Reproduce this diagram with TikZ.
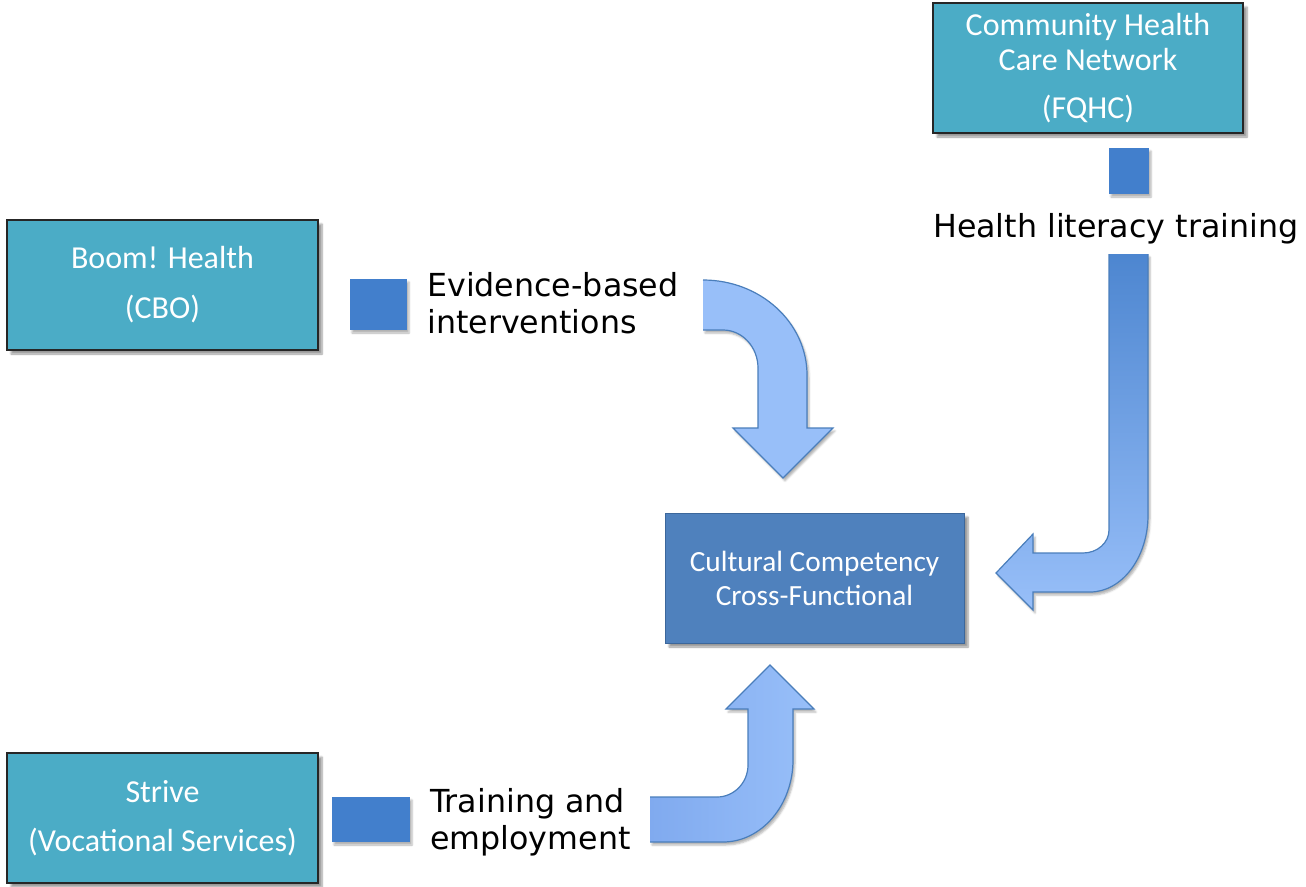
\documentclass[tikz,border=0pt]{standalone}
\usepackage{fontspec}
\setmainfont{Carlito}
\newfontfamily\labelfont{DejaVu Sans}
\usetikzlibrary{shadows.blur}
\definecolor{tealbox}{HTML}{4BACC6}
\definecolor{corebox}{HTML}{4F81BD}
\definecolor{coreline}{HTML}{3C679B}
\definecolor{sqcol}{HTML}{427FCC}
\definecolor{arrowlight}{HTML}{98BFF9}
\definecolor{arrowdark}{HTML}{4D86D0}
\definecolor{arrowmid}{HTML}{80AAEF}
\definecolor{arrowline}{HTML}{4A7EBB}
\tikzset{
  orgbox/.style={draw=black!85, line width=1.2pt, fill=tealbox, text=white,
    minimum width=311pt, minimum height=130pt, align=center, inner sep=0pt,
    font=\fontsize{32}{35}\selectfont,
    blur shadow={shadow xshift=4pt, shadow yshift=-4pt, shadow opacity=40, shadow blur steps=6}},
  corenode/.style={draw=coreline, line width=1pt, fill=corebox, text=white,
    minimum width=299pt, minimum height=130pt, align=center, inner sep=0pt,
    font=\fontsize{29.3}{34}\selectfont,
    blur shadow={shadow xshift=4pt, shadow yshift=-4pt, shadow opacity=40, shadow blur steps=6}},
  lbl/.style={anchor=west, align=left, inner sep=0pt, text=black,
    font=\labelfont\fontsize{31.7}{37.5}\selectfont},
  sq/.style={fill=sqcol, draw=none,
    blur shadow={shadow xshift=2pt, shadow yshift=-3pt, shadow opacity=30, shadow blur steps=4}},
  arrowedge/.style={draw=arrowline, line width=1.2pt, line join=miter},
  arrowshadow/.style={blur shadow={shadow xshift=2pt, shadow yshift=-3pt, shadow opacity=30, shadow blur steps=4}}
}
\begin{document}
\begin{tikzpicture}[x=1pt,y=-1pt]
\useasboundingbox (0,0) rectangle (1306,886);

% boxes
\node[orgbox] (boom) at (162.5,285) {\raisebox{-2pt}{Boom! Health}\\[15pt]\raisebox{-2pt}{(CBO)}};
\node[orgbox, minimum width=310pt] (chcn) at (1088,68) {Community Health\\Care Network\\[13pt](FQHC)};
\node[orgbox] (strive) at (162.5,818) {\raisebox{-2pt}{Strive}\\[14pt]\raisebox{-2pt}{(Vocational Services)}};
\node[corenode] (core) at (814.5,578) {Cultural Competency\\Cross-Functional};

% small squares (start of the arrows)
\fill[sq] (350,279) rectangle (407,330);
\fill[sq] (1109,148) rectangle (1149,194);
\fill[sq] (332,797) rectangle (410,842);

% arrow 1: Evidence-based interventions
\fill[arrowlight, arrowshadow] (703,280) .. controls (760.4,280) and (807,322.6) .. (807,375)
  -- (807,428) -- (833,428) -- (783,478) -- (733,428) -- (758,428) -- (758,368)
  .. controls (758,347) and (742.3,330) .. (723,330) -- (703,330) -- cycle;
\draw[arrowedge] (703,280) .. controls (760.4,280) and (807,322.6) .. (807,375)
  -- (807,428) -- (833,428) -- (783,478) -- (733,428) -- (758,428) -- (758,368)
  .. controls (758,347) and (742.3,330) .. (723,330) -- (703,330);

% arrow 2: Health literacy training
\shade[top color=arrowdark, bottom color=arrowlight, arrowshadow] (1109,254) -- (1109,530)
  .. controls (1109,542.7) and (1097.4,553) .. (1083,553)
  -- (1033,553) -- (1033,534) -- (996,573) -- (1033,610) -- (1033,592) -- (1090,592)
  .. controls (1122,592) and (1148,557.5) .. (1148,515) -- (1148,254) -- cycle;
\draw[arrowedge] (1109,254) -- (1109,530)
  .. controls (1109,542.7) and (1097.4,553) .. (1083,553)
  -- (1033,553) -- (1033,534) -- (996,573) -- (1033,610) -- (1033,592) -- (1090,592)
  .. controls (1122,592) and (1148,557.5) .. (1148,515) -- (1148,254);

% arrow 3: Training and employment
\shade[left color=arrowmid, middle color=arrowlight, right color=arrowlight, arrowshadow] (650,797) -- (717,797)
  .. controls (734,797) and (748,782.7) .. (748,765)
  -- (748,709) -- (726,709) -- (770,665) -- (814,709) -- (793,709) -- (793,760)
  .. controls (793,805) and (761.6,842) .. (723,842) -- (650,842) -- cycle;
\draw[arrowedge] (650,797) -- (717,797)
  .. controls (734,797) and (748,782.7) .. (748,765)
  -- (748,709) -- (726,709) -- (770,665) -- (814,709) -- (793,709) -- (793,760)
  .. controls (793,805) and (761.6,842) .. (723,842) -- (650,842);

% labels
\node[lbl] (lblA) at (427,303) {Evidence-based\\interventions};
\node[lbl] (lblB) at (933,229) {Health literacy training};
\node[lbl] (lblC) at (430,822) {Training and\\employment};
\end{tikzpicture}
\end{document}
